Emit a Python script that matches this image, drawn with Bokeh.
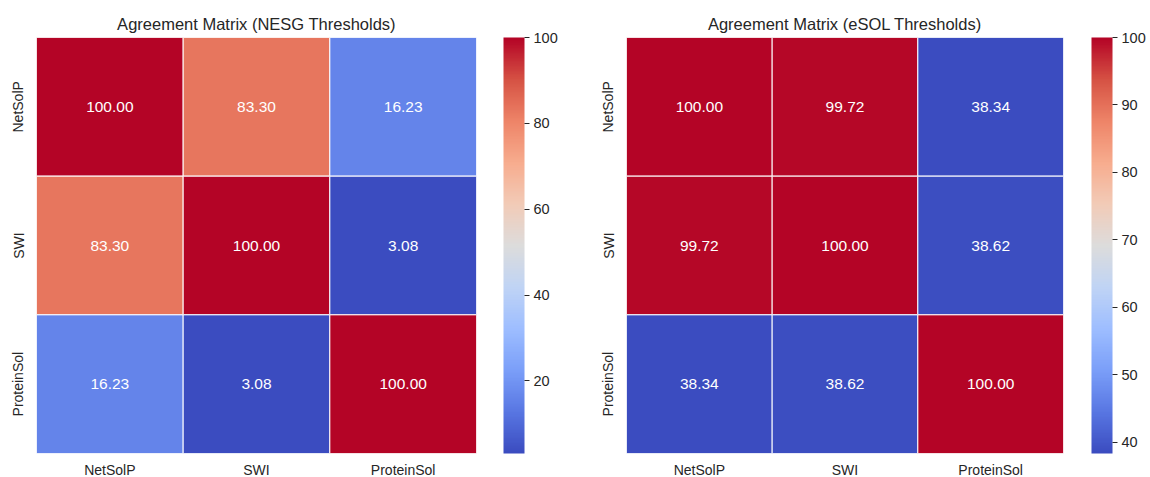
import numpy as np
from bokeh.plotting import figure
from bokeh.models import (ColumnDataSource, LinearColorMapper, ColorBar,
                          FixedTicker, FactorRange)
from bokeh.layouts import row
from bokeh.embed import file_html
from bokeh.resources import INLINE
from bokeh.core.properties import value

# Pairwise agreement (%) between solubility predictors
tools = ["NetSolP", "SWI", "ProteinSol"]
nesg_agreement = [
    [100.00, 83.30, 16.23],
    [83.30, 100.00, 3.08],
    [16.23, 3.08, 100.00],
]
esol_agreement = [
    [100.00, 99.72, 38.34],
    [99.72, 100.00, 38.62],
    [38.34, 38.62, 100.00],
]
nesg_ticks = [20, 40, 60, 80, 100]
esol_ticks = [40, 50, 60, 70, 80, 90, 100]

FONT = "Liberation Sans"
INK = "#262626"

# coolwarm diverging colormap, sampled at 11 stops and interpolated
coolwarm_stops = ["#3b4cc0", "#5977e3", "#7b9ff9", "#9ebeff", "#c0d4f5",
                  "#dddcdc", "#f2cbb7", "#f7ac8e", "#ee8468", "#d65244",
                  "#b40426"]


def build_palette(stops, n=256):
    rgb = np.array([[int(h[i:i + 2], 16) for i in (1, 3, 5)] for h in stops], float)
    pos = np.linspace(0, 1, len(stops))
    t = np.linspace(0, 1, n)
    ch = [np.interp(t, pos, rgb[:, k]) for k in range(3)]
    return ["#%02x%02x%02x" % (int(round(ch[0][i])), int(round(ch[1][i])),
                               int(round(ch[2][i]))) for i in range(n)]


palette = build_palette(coolwarm_stops)


def heatmap(title, matrix, ticks, frame_w, border_l, border_r, bar_offset):
    xs, ys, vals, labels = [], [], [], []
    for i, row_name in enumerate(tools):
        for j, col_name in enumerate(tools):
            xs.append(col_name)
            ys.append(row_name)
            vals.append(matrix[i][j])
            labels.append("%.2f" % matrix[i][j])
    src = ColumnDataSource(dict(x=xs, y=ys, v=vals, label=labels))
    mapper = LinearColorMapper(palette=palette, low=min(vals), high=max(vals))

    p = figure(title=title,
               x_range=FactorRange(*tools),
               y_range=FactorRange(*reversed(tools)),
               frame_width=frame_w, frame_height=416,
               min_border_left=border_l, min_border_right=border_r,
               min_border_top=37, min_border_bottom=24,
               toolbar_location=None, tools="", output_backend="svg")
    p.rect(x="x", y="y", width=1, height=1, source=src,
           fill_color={"field": "v", "transform": mapper},
           line_color="white", line_width=1)
    p.text(x="x", y="y", text="label", source=src,
           text_align="center", text_baseline="middle",
           text_color="white", text_font=value(FONT),
           text_font_size="15.5px")

    p.title.align = "center"
    p.title.text_font = FONT
    p.title.text_font_style = "normal"
    p.title.text_font_size = "16.5px"
    p.title.text_color = INK
    p.title.offset = 2

    p.outline_line_color = None
    p.xgrid.visible = False
    p.ygrid.visible = False
    for ax in (p.xaxis, p.yaxis):
        ax.axis_line_color = None
        ax.major_tick_line_color = None
        ax.minor_tick_line_color = None
        ax.major_tick_out = 0
        ax.major_tick_in = 0
        ax.minor_tick_out = 0
        ax.major_label_text_font = FONT
        ax.major_label_text_font_size = "14px"
        ax.major_label_text_color = INK
    p.xaxis.major_label_standoff = 8
    p.yaxis.major_label_standoff = 10
    p.yaxis.major_label_orientation = "vertical"

    cb = ColorBar(color_mapper=mapper, ticker=FixedTicker(ticks=ticks),
                  width=21, height=416, padding=0, margin=0,
                  location=(bar_offset, 0),
                  major_tick_in=0, major_tick_out=5,
                  major_tick_line_color=INK,
                  major_label_text_font=FONT,
                  major_label_text_font_size="14.5px",
                  major_label_text_color=INK,
                  label_standoff=4,
                  bar_line_color=None, border_line_color=None,
                  background_fill_color=None)
    p.add_layout(cb, "right")
    return p


left = heatmap("Agreement Matrix (NESG Thresholds)", nesg_agreement,
               nesg_ticks, 440, 36, 114, 27)
right = heatmap("Agreement Matrix (eSOL Thresholds)", esol_agreement,
                esol_ticks, 437, 36, 87, 28)

layout = row(left, right)
open("out.html", "w").write(file_html(layout, INLINE))
